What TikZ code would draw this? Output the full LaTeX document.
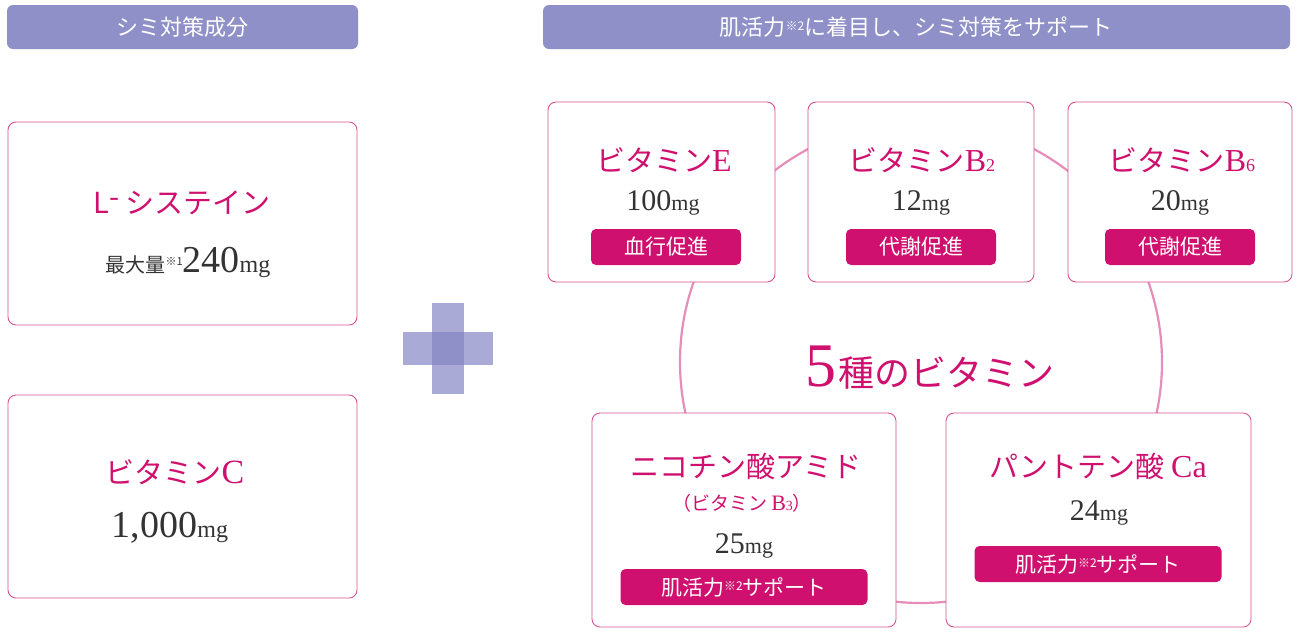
\documentclass[tikz,border=0pt]{standalone}
\usepackage{fontspec}
\setmainfont{Liberation Serif}
\newfontfamily\jp{Noto Sans CJK JP}
\definecolor{hdr}{HTML}{8F90C8}
\definecolor{pk}{HTML}{D0106E}
\definecolor{pkline}{HTML}{D6538F}
\definecolor{circ}{HTML}{E68DBA}
\definecolor{lav}{HTML}{A9AAD6}
\definecolor{txt}{HTML}{333333}
\tikzset{
 hdrbox/.style={fill=hdr,rounded corners=6pt,text=white,font=\jp\fontsize{22}{24}\selectfont},
 card/.style={draw=pkline,line width=0.9pt,fill=white,rounded corners=8pt},
 ttl/.style={text=pk,font=\jp\fontsize{29}{32}\selectfont},
 amt/.style={text=txt,font=\fontsize{30}{32}\selectfont},
 badge/.style={fill=pk,rounded corners=5pt,text=white,font=\jp\fontsize{21}{23}\selectfont,minimum height=36pt,inner xsep=6pt}
}
\begin{document}
\begin{tikzpicture}[x=1pt,y=-1pt]
\useasboundingbox (0,0) rectangle (1300,633);
\fill[white] (0,0) rectangle (1300,633);
% headers
\path[hdrbox] (7,5) rectangle (358,49);
\node[text=white,font=\jp\fontsize{22}{24}\selectfont] (h1) at (182,27) {シミ対策成分};
\path[hdrbox] (543,5) rectangle (1290,49);
\node[text=white,font=\jp\fontsize{22}{24}\selectfont] (h2) at (916,27) {肌活力\raisebox{5pt}{\fontsize{12}{12}\selectfont ※2}に着目し、シミ対策をサポート};
% left cards
\path[card] (8,122) rectangle (357,325);
\node[ttl] (lc) at (182,203) {L\raisebox{6pt}{-} システイン};
\node[text=txt] (lca) at (188,262) {{\jp\fontsize{20}{22}\selectfont 最大量\raisebox{7pt}{\fontsize{11}{11}\selectfont ※1}}{\fontsize{38}{40}\selectfont 240}{\fontsize{24}{26}\selectfont mg}};
\path[card] (8,395) rectangle (357,598);
\node[ttl] (vc) at (175,472) {ビタミン{\fontsize{34}{36}\selectfont\rmfamily C}};
\node[text=txt] (vca) at (170,528) {{\fontsize{38}{40}\selectfont 1,000}{\fontsize{24}{26}\selectfont mg}};
% plus
\fill[lav] (432,303) rectangle (464,394);
\fill[lav] (403,332) rectangle (493,365);
\fill[hdr] (432,332) rectangle (464,365);
% circle
\draw[circ,line width=2.2pt] (921,362) circle (241);
\node[text=pk] (five) at (930,368) {{\fontsize{62}{64}\selectfont 5}\,{\jp\fontsize{36}{38}\selectfont 種のビタミン}};
% top cards
\path[card] (548,102) rectangle (775,282);
\node[ttl] (e) at (664,160) {ビタミン{\rmfamily\fontsize{32}{34}\selectfont E}};
\node[amt] (ea) at (663,203) {100{\fontsize{22}{24}\selectfont mg}};
\node[badge,minimum width=150pt] (eb) at (666,247) {血行促進};
\path[card] (808,102) rectangle (1034,282);
\node[ttl] (b2) at (922,160) {ビタミン{\rmfamily\fontsize{32}{34}\selectfont B\fontsize{18}{18}\selectfont 2}};
\node[amt] (b2a) at (921,203) {12{\fontsize{22}{24}\selectfont mg}};
\node[badge,minimum width=150pt] (b2b) at (921,247) {代謝促進};
\path[card] (1068,102) rectangle (1292,282);
\node[ttl] (b6) at (1182,160) {ビタミン{\rmfamily\fontsize{32}{34}\selectfont B\fontsize{18}{18}\selectfont 6}};
\node[amt] (b6a) at (1180,203) {20{\fontsize{22}{24}\selectfont mg}};
\node[badge,minimum width=150pt] (b6b) at (1180,247) {代謝促進};
% bottom cards
\path[card] (592,413) rectangle (896,627);
\node[ttl] (n) at (746,466) {ニコチン酸アミド};
\node[text=pk,font=\jp\fontsize{19}{21}\selectfont] (nb) at (742,503) {（ビタミン {\rmfamily\fontsize{22}{24}\selectfont B\fontsize{14}{14}\selectfont 3}）};
\node[amt] (na) at (744,546) {25{\fontsize{22}{24}\selectfont mg}};
\node[badge,minimum width=247pt] (nbd) at (744,587) {肌活力\raisebox{5pt}{\fontsize{12}{12}\selectfont ※2}サポート};
\path[card] (946,413) rectangle (1251,627);
\node[ttl] (p) at (1098,466) {パントテン酸 {\rmfamily\fontsize{32}{34}\selectfont Ca}};
\node[amt] (pa) at (1099,513) {24{\fontsize{22}{24}\selectfont mg}};
\node[badge,minimum width=247pt] (pbd) at (1098,564) {肌活力\raisebox{5pt}{\fontsize{12}{12}\selectfont ※2}サポート};
\end{tikzpicture}
\end{document}
